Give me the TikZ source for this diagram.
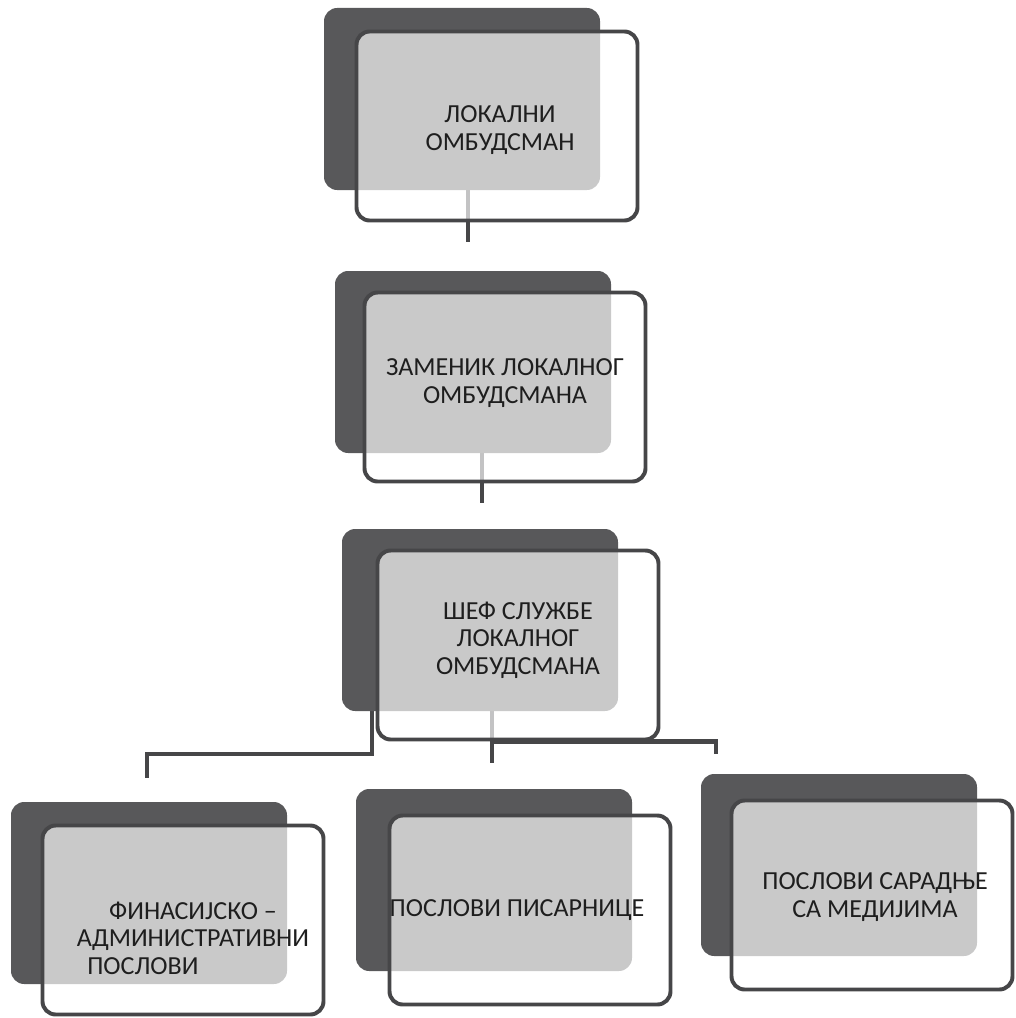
\documentclass[tikz,border=0pt]{standalone}
\usepackage{fontspec}
\setmainfont{Carlito}
\usetikzlibrary{backgrounds}

\definecolor{cardgray}{RGB}{88,88,90}
\definecolor{framegray}{RGB}{70,70,72}
\definecolor{inkgray}{RGB}{30,30,30}
\newcommand\pxu{0.025cm}

\tikzset{
  backcard/.style={fill=cardgray, rounded corners=0.33cm, inner sep=0pt,
    minimum width=276*\pxu, minimum height=182*\pxu},
  frontcard/.style={draw=framegray, line width=2.8pt, fill=white, fill opacity=0.68,
    rounded corners=0.33cm, inner sep=0pt,
    minimum width=281*\pxu, minimum height=189*\pxu},
  link/.style={draw=framegray, line width=3.2pt},
  cardtext/.style={text=inkgray, font=\fontsize{18.5}{19.6}\selectfont, align=center, inner sep=0pt}
}

\begin{document}
\begin{tikzpicture}[x=0.025cm, y=-0.025cm]
      \useasboundingbox (0,0) rectangle (1015,1018);

      % top
      \node[backcard] (lo-b) at (462,99) {};
      \node[frontcard] (lo) at (497,126) {};
      \node[cardtext] (lo-t) at (500,130) {ЛОКАЛНИ\\ОМБУДСМАН};

      % deputy
      \node[backcard] (zam-b) at (473,362) {};
      \node[frontcard] (zam) at (505,387) {};
      \node[cardtext] (zam-t) at (505,383) {ЗАМЕНИК ЛОКАЛНОГ\\ОМБУДСМАНА};

      % head of service
      \node[backcard] (shef-b) at (480,620) {};
      \node[frontcard] (shef) at (518,645) {};
      \node[cardtext] (shef-t) at (518,640) {ШЕФ СЛУЖБЕ\\ЛОКАЛНОГ\\ОМБУДСМАНА};

      % bottom row
      \node[backcard] (fin-b) at (149,893) {};
      \node[frontcard] (fin) at (183,920) {};
      \node[cardtext] (fin-t) at (193,938) {ФИНАСИЈСКО –\\АДМИНИСТРАТИВНИ\\ПОСЛОВИ\hspace*{3.85em}};

      \node[backcard] (pis-b) at (494,880) {};
      \node[frontcard] (pis) at (530,910) {};
      \node[cardtext] (pis-t) at (517,910) {ПОСЛОВИ ПИСАРНИЦЕ};

      \node[backcard] (med-b) at (839,865) {};
      \node[frontcard] (med) at (872,895) {};
      \node[cardtext] (med-t) at (875,897) {ПОСЛОВИ САРАДЊЕ\\СА МЕДИЈИМА};

      \begin{pgfonlayer}{background}
        \coordinate (j1) at (468,242);
        \coordinate (j2) at (482,503);
        \coordinate (lt) at (372,754);
        \coordinate (ft) at (147,778);
        \coordinate (mt) at (492,763);
        \coordinate (rt) at (716,754);
        \draw[link] (j1 |- lo-b.south) -- (j1);
        \draw[link] (j2 |- zam-b.south) -- (j2);
        \draw[link] (lt |- shef-b.south) -- (lt) -- (ft |- lt) -- (ft);
        \draw[link] (mt |- shef-b.south) -- (mt);
        \draw[link] (mt |- shef.south) -- (rt |- shef.south) -- (rt);
      \end{pgfonlayer}

    \end{tikzpicture}
\end{document}
